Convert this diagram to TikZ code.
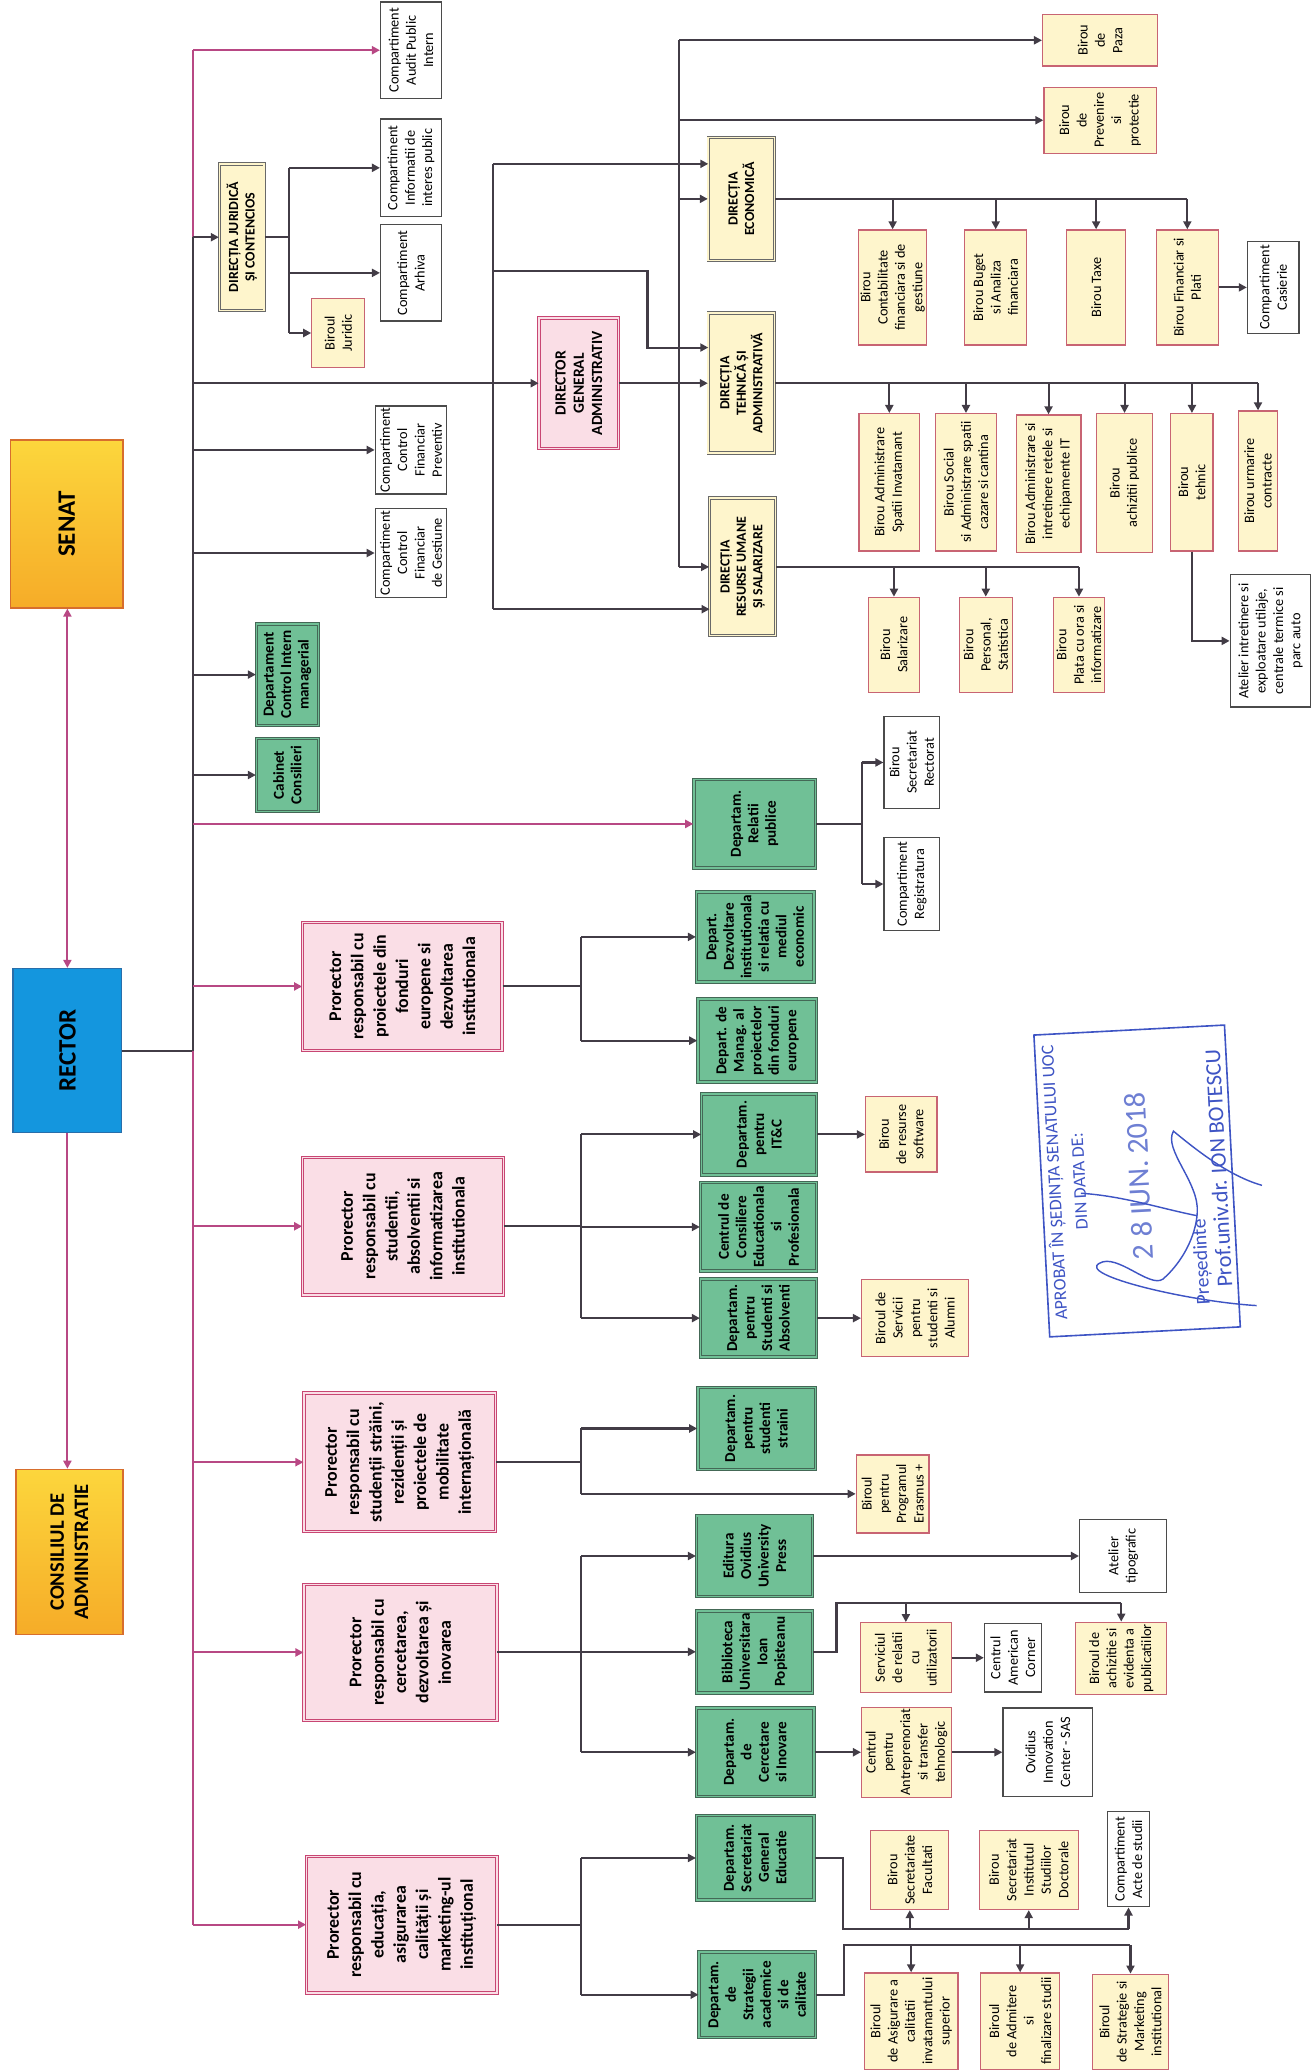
\documentclass[tikz,border=0pt]{standalone}
\usepackage{fontspec}
\setmainfont{Carlito}
\usetikzlibrary{arrows.meta, positioning}
\definecolor{pfill}{RGB}{250,222,230}
\definecolor{pline}{RGB}{200,70,115}
\definecolor{gfill}{RGB}{112,192,150}
\definecolor{gline}{RGB}{68,104,86}
\definecolor{yfill}{RGB}{254,245,204}
\definecolor{bline}{RGB}{200,100,115}
\definecolor{dline}{RGB}{105,105,105}
\definecolor{wline}{RGB}{75,75,75}
\definecolor{goldA}{RGB}{252,214,60}
\definecolor{goldB}{RGB}{246,172,40}
\definecolor{goldline}{RGB}{215,110,45}
\definecolor{rblue}{RGB}{20,150,222}
\definecolor{rline}{RGB}{40,110,170}
\definecolor{cdark}{RGB}{66,60,70}
\definecolor{cmag}{RGB}{184,72,132}
\definecolor{stblue}{RGB}{62,84,196}
\newlength{\ux}
\setlength{\ux}{0.026cm}
\newcommand{\fPlain}{\fontsize{8}{9.7}\selectfont}
\newcommand{\fDir}{\fontsize{7.8}{9.2}\selectfont\bfseries}
\newcommand{\fDept}{\fontsize{8.5}{9.8}\selectfont\bfseries}
\newcommand{\fPror}{\fontsize{10}{12.5}\selectfont\bfseries}
\newcommand{\fDG}{\fontsize{8.7}{10.2}\selectfont\bfseries}
\newcommand{\fTop}{\fontsize{14}{16}\selectfont\bfseries}
\tikzset{
  bx/.style={rectangle, rotate=90, align=center, inner sep=1pt},
  wh/.style 2 args={minimum height=#1\ux, minimum width=#2\ux},
  plain/.style={bx, draw=wline, fill=white, line width=0.7pt, font=\fPlain},
  birou/.style={bx, draw=bline, fill=yfill, line width=0.7pt, font=\fPlain},
  dirbox/.style={bx, draw=dline, fill=yfill, double=yfill, double distance=0.9pt,
                 line width=0.55pt, font=\fDir},
  dept/.style={bx, draw=gline, fill=gfill, double=gfill, double distance=0.9pt,
               line width=0.55pt, font=\fDept},
  pror/.style={bx, draw=pline, fill=pfill, double=pfill, double distance=0.9pt,
               line width=0.55pt, font=\fPror},
  topbox/.style={bx, draw=goldline, top color=goldA, bottom color=goldB,
                 line width=0.8pt, font=\fTop},
  conn/.style={draw=cdark, line width=1.15pt},
  mconn/.style={draw=cmag, line width=1.15pt},
  arr/.style={conn, -{Triangle[length=4.5pt, width=4.5pt]}},
  marr/.style={mconn, -{Triangle[length=4.5pt, width=4.5pt]}},
  dmarr/.style={mconn, {Triangle[length=4.5pt, width=4.5pt]}-{Triangle[length=4.5pt, width=4.5pt]}},
  stampbox/.style={draw=stblue, line width=0.9pt, rotate=93, inner sep=0pt},
  stamp/.style={rotate=93, text=stblue, inner sep=0pt},
}

\begin{document}
\begin{tikzpicture}[x=0.026cm, y=-0.026cm]
\useasboundingbox (0,0) rectangle (993,1568);

\node[topbox, wh={85}{127}] (sen) at (50.5,396.5) {SENAT};
\node[bx, draw=rline, fill=rblue, line width=0.8pt, font=\fTop, wh={82}{124}] (rec) at (51,795) {RECTOR};
\node[topbox, wh={81}{125}, font=\fontsize{11.5}{13.5}\selectfont\bfseries] (con) at (52.5,1174.5) {CONSILIUL DE\\ADMINISTRATIE};

\node[plain, wh={46}{73}] (aud) at (311,38) {Compartiment\\Audit Public\\Intern};
\node[dirbox, wh={34}{111}] (djc) at (183,179.5) {DIRECȚIA JURIDICĂ\\ȘI CONTENCIOS};
\node[plain, wh={46}{74}] (cip) at (311,127) {Compartiment\\Informatii de\\interes public};
\node[plain, wh={46}{73}] (car) at (311,206.5) {Compartiment\\Arhiva};
\node[birou, wh={40}{52}] (bju) at (256,252) {Biroul\\Juridic};
\node[pror, font=\fDG, wh={60}{99}] (dga) at (438,290) {DIRECTOR\\GENERAL\\ADMINISTRATIV};
\node[plain, wh={54}{65}] (cfp) at (311,340.5) {Compartiment\\Control\\Financiar\\Preventiv};
\node[plain, wh={54}{67}] (cfg) at (311,418.5) {Compartiment\\Control\\Financiar\\de Gestiune};
\node[dept, wh={47}{77}] (dcm) at (217.5,510.5) {Departament\\Control Intern\\managerial};
\node[dept, wh={47}{55}] (cab) at (217.5,586.5) {Cabinet\\Consilieri};
\node[dept, wh={92}{67}] (drp) at (571,623.5) {Departam.\\Relatii\\publice};
\node[plain, wh={42}{70}] (bsr) at (690,577) {Birou\\Secretariat\\Rectorat};
\node[plain, wh={42}{70}] (reg) at (690,669) {Compartiment\\Registratura};

\node[dirbox, wh={50}{93}] (dec) at (561,150.5) {DIRECȚIA\\ECONOMICĂ};
\node[dirbox, wh={50}{106}] (dta) at (561,290) {DIRECȚIA\\TEHNICĂ ȘI\\ADMINISTRATIVĂ};
\node[dirbox, wh={50}{104}] (dru) at (562,429) {DIRECȚIA\\RESURSE UMANE\\ȘI SALARIZARE};
\node[birou, wh={87}{39}] (bpz) at (832.5,30.5) {Birou\\de\\Paza};
\node[birou, wh={85}{50}] (bpp) at (832.5,91) {Birou\\de\\Prevenire\\si\\protectie};
\node[birou, wh={51}{87}] (bcf) at (675.5,217.5) {Birou\\Contabilitate\\financiara si de\\gestiune};
\node[birou, wh={47}{87}] (bba) at (753.5,217.5) {Birou Buget\\si Analiza\\financiara};
\node[birou, wh={45}{87}] (btx) at (829.5,217.5) {Birou Taxe};
\node[birou, wh={47}{87}] (bfp) at (898.5,217.5) {Birou Financiar si\\Plati};
\node[plain, wh={39}{70}] (cas) at (963.5,217.5) {Compartiment\\Casierie};
\node[birou, wh={46}{104}] (bas) at (673,365) {Birou Administrare\\Spatii Invatamant};
\node[birou, wh={46}{104}] (bsc) at (731,365) {Birou Social\\si Administrare spatii\\cazare si cantina};
\node[birou, wh={49}{104}] (bit) at (793.5,366) {Birou Administrare si\\intretinere retele si\\echipamente IT};
\node[birou, wh={42}{105}] (bap) at (851,365.5) {Birou\\achizitii publice};
\node[birou, wh={32}{104}] (bth) at (902,365) {Birou\\tehnic};
\node[birou, wh={30}{106}] (buc) at (952,364) {Birou urmarire\\contracte};
\node[plain, wh={61}{100}] (ati) at (961.5,485) {Atelier intretinere si\\exploatare utilaje,\\centrale termice si\\parc auto};
\node[birou, wh={39}{72}] (bsa) at (676.5,488) {Birou\\Salarizare};
\node[birou, wh={40}{72}] (bps) at (746,488) {Birou\\Personal,\\Statistica};
\node[birou, wh={39}{72}] (bpl) at (816.5,488) {Birou\\Plata cu ora si\\informatizare};

\node[pror, wh={151}{97}] (pr1) at (304.5,746.5) {Prorector\\responsabil cu\\proiectele din\\fonduri\\europene si\\dezvoltarea\\institutionala};
\node[pror, wh={152}{104}] (pr2) at (305,928) {Prorector\\responsabil cu\\studentii,\\absolventii si\\informatizarea\\institutionala};
\node[pror, wh={145}{105}] (pr3) at (302.5,1106.5) {Prorector\\responsabil cu\\studenții străini,\\rezidenții și\\proiectele de\\mobilitate\\internațională};
\node[pror, wh={146}{103}] (pr4) at (303,1250.5) {Prorector\\responsabil cu\\cercetarea,\\dezvoltarea și\\inovarea};
\node[pror, wh={144}{103}] (pr5) at (304,1456.5) {Prorector\\responsabil cu\\educația,\\asigurarea\\calității și\\marketing-ul\\instituțional};

\node[dept, wh={89}{68}] (dzv) at (571.5,709) {Depart.\\Dezvoltare\\institutionala\\si relatia cu\\mediul\\economic};
\node[dept, wh={90}{63}] (dmf) at (573,787.5) {Depart. de\\Manag. al\\proiectelor\\din fonduri\\europene};
\node[dept, wh={87}{61}] (itc) at (574.5,858.5) {Departam.\\pentru\\IT\&C};
\node[birou, wh={54}{57}] (brs) at (682,858.5) {Birou\\de resurse\\software};
\node[dept, wh={88}{67}] (cce) at (574,928.5) {Centrul de\\Consiliere\\Educationala\\si\\Profesionala};
\node[dept, wh={88}{59}] (dsa) at (574,997.5) {Departam.\\pentru\\Studenti si\\Absolventi};
\node[birou, wh={81}{58}] (bsv) at (692.5,997.5) {Biroul de\\Servicii\\pentru\\studenti si\\Alumni};
\node[dept, wh={89}{62}] (dss) at (572.5,1081) {Departam.\\pentru\\studenti\\straini};
\node[birou, wh={55}{59}] (ber) at (675.5,1130.5) {Biroul\\pentru\\Programul\\Erasmus +};
\node[dept, wh={88}{61}] (edi) at (571,1177.5) {Editura\\Ovidius\\University\\Press};
\node[plain, wh={66}{55}] (atl) at (850,1177.5) {Atelier\\tipografic};
\node[dept, wh={88}{62}] (bib) at (571,1250) {Biblioteca\\Universitara\\Ioan\\Popisteanu};
\node[birou, wh={69}{53}] (srv) at (685.5,1254.5) {Serviciul\\de relatii\\cu\\utilizatorii};
\node[plain, wh={43}{52}] (amc) at (766.5,1254.5) {Centrul\\American\\Corner};
\node[birou, wh={69}{54}] (bae) at (848.5,1255) {Biroul de\\achizitie si\\evidenta a\\publicatiilor};
\node[dept, wh={89}{67}] (dci) at (571.5,1326) {Departam.\\de\\Cercetare\\si Inovare};
\node[birou, wh={68}{67}] (cat) at (686,1326) {Centrul\\pentru\\Antreprenoriat\\si transfer\\tehnologic};
\node[plain, wh={68}{67}] (oic) at (793,1326) {Ovidius\\Innovation\\Center - SAS};
\node[dept, wh={89}{64}] (dsg) at (571.5,1406) {Departam.\\Secretariat\\General\\Educatie};
\node[birou, wh={59}{60}] (bsf) at (688.5,1415) {Birou\\Secretariate\\Facultati};
\node[birou, wh={75}{60}] (bsd) at (778.5,1415) {Birou\\Secretariat\\Institutul\\Studiilor\\Doctorale};
\node[plain, wh={32}{72}] (cad) at (854,1407) {Compartiment\\Acte de studii};
\node[dept, wh={88}{65}] (dsc) at (573,1509.5) {Departam.\\de\\Strategii\\academice\\si de\\calitate};
\node[birou, wh={71}{73}] (bac) at (689.5,1529.5) {Biroul\\de Asigurare a\\calitatii\\invatamantului\\superior};
\node[birou, wh={60}{73}] (bad) at (772,1529.5) {Biroul\\de Admitere\\si\\finalizare studii};
\node[birou, wh={57}{72}] (bsm) at (855.5,1530) {Biroul\\de Strategie si\\Marketing\\institutional};

\draw[dmarr] (rec.east) -- (rec.east |- sen.west);
\draw[marr] (rec.west) -- (rec.west |- con.east);
\coordinate (tk) at (146,795);
\draw[conn] (rec.south) -- (tk);
\draw[mconn] (tk |- aud.north) -- (tk |- djc.north);
\draw[conn] (tk |- djc.north) -- (tk);
\draw[mconn] (tk) -- (tk |- pr5.north);
\foreach \n in {djc, dga, cfp, cfg, dcm, cab}
  \draw[arr] (tk |- \n.north) -- (\n.north);
\foreach \n in {aud, drp, pr1, pr2, pr3, pr4, pr5}
  \draw[marr] (tk |- \n.north) -- (\n.north);

\coordinate (jj) at (219,179.5);
\draw[conn] (djc.south) -- (jj);
\draw[conn] (jj |- cip.north) -- (jj |- bju.north);
\foreach \n in {cip, car, bju}
  \draw[arr] (jj |- \n.north) -- (\n.north);

\coordinate (ga) at (373,290);
\coordinate (gb) at (514,290);
\coordinate (jg) at (490,205);
\coordinate (de1) at (536,124);
\coordinate (dt1) at (536,263);
\coordinate (dr1) at (537,461);
\draw[conn] (ga |- de1) -- (ga |- dr1);
\draw[arr] (ga |- de1) -- (de1);
\draw[arr] (ga |- jg) -- (jg) |- (dt1);
\draw[arr] (ga |- dr1) -- (dr1);
\draw[arr] (dga.south) -- (dta.north);
\draw[conn] (gb |- bpz.north) -- (gb |- dru.north);
\foreach \n in {bpz, bpp, dec, dru}
  \draw[arr] (gb |- \n.north) -- (\n.north);

\draw[conn] (dec.south) -- (dec.south -| bfp.east);
\foreach \n in {bcf, bba, btx, bfp}
  \draw[arr] (dec.south -| \n.east) -- (\n.east);
\draw[arr] (bfp.south) -- (cas.north);
\draw[conn] (dta.south) -- (dta.south -| buc.east);
\foreach \n in {bas, bsc, bit, bap, bth, buc}
  \draw[arr] (dta.south -| \n.east) -- (\n.east);
\draw[arr] (bth.west) |- (ati.north);
\draw[conn] (dru.south) -- (dru.south -| bpl.east);
\foreach \n in {bsa, bps, bpl}
  \draw[arr] (dru.south -| \n.east) -- (\n.east);

\coordinate (rj) at (652,623.5);
\draw[conn] (drp.south) -- (rj);
\draw[conn] (rj |- bsr.north) -- (rj |- reg.north);
\foreach \n in {bsr, reg}
  \draw[arr] (rj |- \n.north) -- (\n.north);

\coordinate (pj) at (440,0);
\foreach \p/\a/\b in {pr1/dzv/dmf, pr2/itc/dsa, pr3/dss/ber, pr4/edi/dci, pr5/dsg/dsc} {
  \draw[conn] (\p.south) -- (\p.south -| pj);
  \draw[conn] (pj |- \a.north) -- (pj |- \b.north);
}
\foreach \n in {dzv, dmf, itc, cce, dsa, dss, ber, edi, bib, dci, dsg, dsc}
  \draw[arr] (pj |- \n.north) -- (\n.north);

\draw[arr] (itc.south) -- (brs.north);
\draw[arr] (dsa.south) -- (bsv.north);
\draw[arr] (edi.south) -- (atl.north);
\coordinate (bj) at (633,1213);
\draw[conn] (bib.south) -| (bj) -- (bj -| bae.east);
\foreach \n in {srv, bae}
  \draw[arr] (bj -| \n.east) -- (\n.east);
\draw[arr] (srv.south) -- (amc.north);
\draw[arr] (dci.south) -- (cat.north);
\draw[arr] (cat.south) -- (oic.north);
\coordinate (sj) at (638,1460);
\draw[conn] (dsg.south) -| (sj) -- (sj -| cad.west);
\foreach \n in {bsf, bsd, cad}
  \draw[arr] (sj -| \n.west) -- (\n.west);
\coordinate (tj) at (639,1472);
\draw[conn] (dsc.south) -| (tj) -- (tj -| bsm.east);
\foreach \n in {bac, bad, bsm}
  \draw[arr] (tj -| \n.east) -- (\n.east);

\node[stampbox, minimum width=228.7\ux, minimum height=144.4\ux] (stp) at (860.5,893.7) {};
\node[stamp, font=\fontsize{10}{12}\selectfont] (st1) at (798,895) {APROBAT ÎN ȘEDINȚA SENATULUI UOC};
\node[stamp, font=\fontsize{10}{12}\selectfont] (st2) at (817,894) {DIN DATA DE:};
\node[stamp, font=\fontsize{17}{19}\selectfont, text=stblue!75] (st3) at (862,890) {2 8 IUN. 2018};
\node[stamp, font=\fontsize{11}{13}\selectfont] (st4) at (910,955) {Președinte};
\node[stamp, font=\fontsize{12.5}{14}\selectfont] (st5) at (922,884) {Prof.univ.dr. ION BOTESCU};
\draw[stblue, line width=0.8pt] (951,988) .. controls (900,985) and (815,965) .. (832,956)
  .. controls (845,948) and (870,975) .. (880,968) .. controls (895,955) and (905,935) .. (906,918)
  .. controls (908,895) and (880,870) .. (888,856) .. controls (905,870) and (930,890) .. (955,897);
\draw[stblue, line width=0.8pt] (818,903) .. controls (850,905) and (880,915) .. (906,920);
\end{tikzpicture}
\end{document}
